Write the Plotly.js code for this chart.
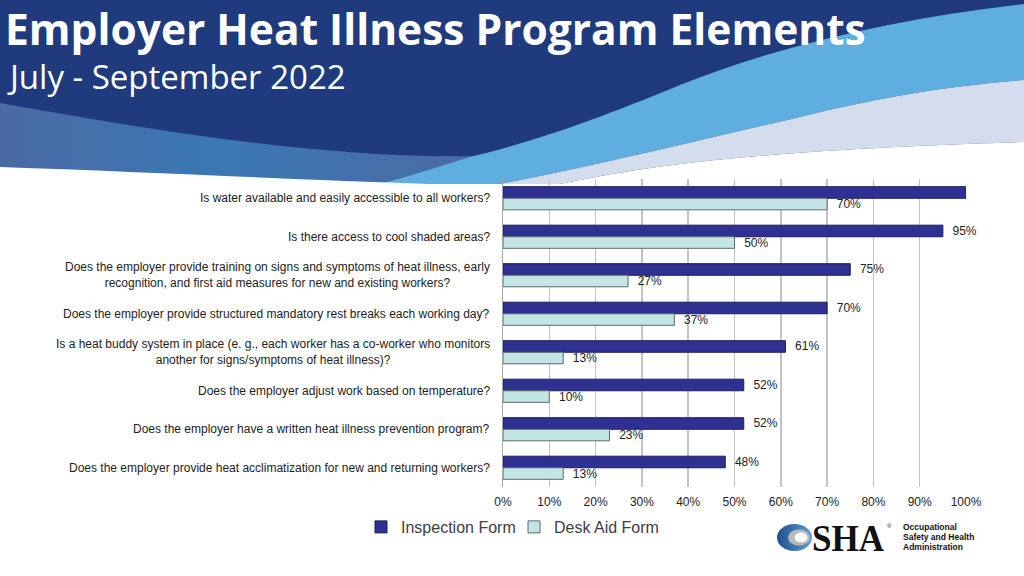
<!DOCTYPE html>
<html>
<head>
<meta charset="utf-8">
<script src="https://cdn.plot.ly/plotly-3.0.1.min.js"></script>
<style>
  html, body { margin: 0; padding: 0; background: #ffffff; }
  #wrap { position: relative; width: 1024px; height: 576px; overflow: hidden; }
  #bg { position: absolute; left: 0; top: 0; }
  #chart { position: absolute; left: 0; top: 0; width: 1024px; height: 576px; }
</style>
</head>
<body>
<div id="wrap">
<svg id="bg" width="1024" height="576" viewBox="0 0 1024 576" xmlns="http://www.w3.org/2000/svg">
  <defs>
    <linearGradient id="leftband" x1="0" y1="0" x2="1" y2="0">
      <stop offset="0" stop-color="#4a6aa3"/>
      <stop offset="0.45" stop-color="#3a78b4"/>
      <stop offset="1" stop-color="#4b6aa2"/>
    </linearGradient>
    <linearGradient id="ograd" x1="0" y1="0" x2="1" y2="0">
      <stop offset="0" stop-color="#1f4f8f"/>
      <stop offset="1" stop-color="#5aa0d0"/>
    </linearGradient>
  </defs>
  <rect x="0" y="0" width="1024" height="186" fill="#1f3b7d"/>
  <path d="M0,103 C150,130 330,160 480,156 L480,186 L0,186 Z" fill="url(#leftband)"/>
  <path d="M1024,4 C900,18 780,45 680,85 C600,118 540,140 470,157 C440,166 410,176 380,184 L500,184 C600,165 700,140 800,117 C880,97 950,86 1024,80 Z" fill="#5eaee0"/>
  <path d="M1024,80 C950,86 880,97 800,117 C700,140 600,165 500,184 L560,184 C650,165 760,150 1024,142 Z" fill="#d3ddee"/>
  <path d="M1024,142 C760,150 650,165 560,184 L1024,184 Z" fill="#ffffff"/>
  <path d="M0,167 C150,172 300,180 430,184 L0,184 Z" fill="#ffffff"/>
  <rect x="0" y="184" width="1024" height="10" fill="#ffffff"/>
  <!-- OSHA logo -->
  <ellipse cx="794.5" cy="537.5" rx="17.5" ry="13.5" fill="url(#ograd)"/>
  <ellipse cx="799" cy="537.5" rx="11" ry="8" fill="#b9b9b9"/>
  <ellipse cx="801" cy="537.5" rx="6.5" ry="5" fill="#ffffff"/>
  <text x="812" y="551" font-family="Liberation Serif, serif" font-weight="bold" font-size="37" fill="#111" textLength="72" lengthAdjust="spacingAndGlyphs">SHA</text>
  <text x="887" y="528" font-family="Liberation Sans, Arial" font-size="6" fill="#111">®</text>
  <text x="903" y="530" font-family="Liberation Sans, Arial" font-weight="bold" font-size="8.5" fill="#111">Occupational</text>
  <text x="903" y="540" font-family="Liberation Sans, Arial" font-weight="bold" font-size="8.5" fill="#111">Safety and Health</text>
  <text x="903" y="550" font-family="Liberation Sans, Arial" font-weight="bold" font-size="8.5" fill="#111">Administration</text>
</svg>
<div id="chart"></div>
</div>
<script>
const categories = [
  "Is water available and easily accessible to all workers?",
  "Is there access to cool shaded areas?",
  "Does the employer provide training on signs and symptoms of heat illness, early<br>recognition, and first aid measures for new and existing workers?",
  "Does the employer provide structured mandatory rest breaks each working day?",
  "Is a heat buddy system in place (e. g., each worker has a co-worker who monitors<br>another for signs/symptoms of heat illness)?",
  "Does the employer adjust work based on temperature?",
  "Does the employer have a written heat illness prevention program?",
  "Does the employer provide heat acclimatization for new and returning workers?"
];
const inspection = [100, 95, 75, 70, 61, 52, 52, 48];
const deskAid = [70, 50, 27, 37, 13, 10, 23, 13];
const inspectionLabels = ["", "95%", "75%", "70%", "61%", "52%", "52%", "48%"];
const deskAidLabels = ["70%", "50%", "27%", "37%", "13%", "10%", "23%", "13%"];
const xTickVals = [0, 10, 20, 30, 40, 50, 60, 70, 80, 90, 100];
const xTickText = ["0%", "10%", "20%", "30%", "40%", "50%", "60%", "70%", "80%", "90%", "100%"];

const pad = s => s ? "\u00a0\u00a0" + s : s;

const traces = [
  {
    type: "bar", orientation: "h", name: "Inspection Form",
    x: inspection, y: categories,
    text: inspectionLabels.map(pad), textposition: "outside", cliponaxis: false,
    constraintext: "none",
    textfont: { family: "Liberation Sans, Arial, sans-serif", size: 12, color: "#222222" },
    marker: { color: "#2e3192", line: { color: "#1c1d5e", width: 1 } },
    hoverinfo: "x+y"
  },
  {
    type: "bar", orientation: "h", name: "Desk Aid Form",
    x: deskAid, y: categories,
    text: deskAidLabels.map(pad), textposition: "outside", cliponaxis: false,
    constraintext: "none",
    textfont: { family: "Liberation Sans, Arial, sans-serif", size: 12, color: "#222222" },
    marker: { color: "#c3e5e5", line: { color: "#5b6b6b", width: 1 } },
    hoverinfo: "x+y"
  }
];

const annotations = categories.map(c => ({
  xref: "paper", yref: "y", x: 0, y: c,
  xanchor: "right", yanchor: "middle", xshift: -11,
  align: "center", showarrow: false, text: c,
  font: { family: "Liberation Sans, Arial, sans-serif", size: 12, color: "#222222" }
}));
annotations.push({
  xref: "paper", yref: "paper", x: (5 - 503) / 463, y: (487 - 77) / 308,
  xanchor: "left", yanchor: "middle", showarrow: false,
  text: "July - September 2022",
  font: { family: "Open Sans, sans-serif", size: 33, color: "#ffffff" }
});

const layout = {
  width: 1024, height: 576,
  paper_bgcolor: "rgba(0,0,0,0)", plot_bgcolor: "rgba(0,0,0,0)",
  margin: { l: 503, r: 58, t: 179, b: 89 },
  title: {
    text: "<b>Employer Heat Illness Program Elements</b>",
    xref: "container", yref: "container", x: 5 / 1024, y: 1 - 30 / 576,
    xanchor: "left", yanchor: "middle",
    font: { family: "Open Sans, sans-serif", size: 42.5, color: "#ffffff" }
  },
  barmode: "group", bargap: 0.4, bargroupgap: 0,
  showlegend: true,
  legend: {
    orientation: "h", x: (361 - 503) / 463, xanchor: "left",
    y: (487 - 527) / 308, yanchor: "middle",
    font: { family: "Liberation Sans, Arial, sans-serif", size: 16, color: "#404040" },
    itemwidth: 30, entrywidth: 108, bgcolor: "rgba(0,0,0,0)"
  },
  xaxis: {
    range: [0, 100], tickvals: xTickVals, ticktext: xTickText,
    showgrid: true, gridcolor: "#c4c4c4", gridwidth: 1.5,
    zeroline: false, showline: false, ticks: "", ticklabelstandoff: 6,
    tickfont: { family: "Liberation Sans, Arial, sans-serif", size: 12, color: "#222222" },
    fixedrange: true
  },
  yaxis: {
    type: "category", autorange: "reversed", showticklabels: false,
    showgrid: false, zeroline: false, showline: true,
    linecolor: "#a8a8a8", linewidth: 1.5, ticks: "", fixedrange: true
  },
  annotations: annotations,
  hovermode: false
};

Plotly.newPlot("chart", traces, layout, { displayModeBar: false, staticPlot: true });
</script>
</body>
</html>
